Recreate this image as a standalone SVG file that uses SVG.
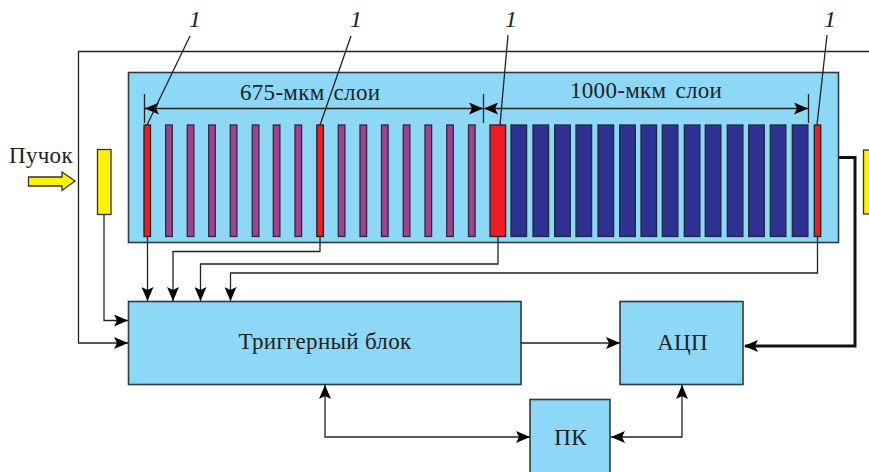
<svg xmlns="http://www.w3.org/2000/svg" width="869" height="472" viewBox="0 0 869 472">
<style>
.b{fill:#8dd7f7;stroke:#2f3a40;stroke-width:1.6}
.r{fill:#ee1c25;stroke:#222;stroke-width:1.3}
.p{fill:#a4418f;stroke:#2a2a3a;stroke-width:1.3}
.d{fill:#2e3192;stroke:#1f2a3a;stroke-width:1.3}
.y{fill:#fff200;stroke:#333;stroke-width:1.3}
.w{fill:none;stroke:#222;stroke-width:1.3}
.t{font-family:"Liberation Serif",serif;font-size:23px;fill:#222;letter-spacing:.3px}
.g{word-spacing:3px}
.i{font-family:"Liberation Serif",serif;font-size:24px;font-style:italic;fill:#222}
.e{marker-end:url(#a)}
.s{marker-start:url(#as)}
</style>
<defs>
<marker id="a" markerUnits="userSpaceOnUse" markerWidth="15" markerHeight="12" refX="14" refY="6" orient="auto"><path d="M0 0L14 6L0 12L3 6Z" fill="#000"/></marker>
<marker id="as" markerUnits="userSpaceOnUse" markerWidth="15" markerHeight="12" refX="0" refY="6" orient="auto"><path d="M14 0L0 6L14 12L11 6Z" fill="#000"/></marker>
</defs>
<rect width="869" height="472" fill="#fff"/>
<g id="panel">
<rect class="b" x="128.5" y="72.5" width="710" height="170"/>
<text class="t g" x="240" y="100">675-мкм слои</text>
<text class="t g" x="570" y="98">1000-мкм слои</text>
</g>
<g id="layers">
<rect class="r" x="144" y="125" width="6.500" height="111.500"/>
<rect class="p" x="165.700" y="125" width="6.600" height="111.500"/>
<rect class="p" x="187.300" y="125" width="6.600" height="111.500"/>
<rect class="p" x="208.700" y="125" width="6.600" height="111.500"/>
<rect class="p" x="230.300" y="125" width="6.600" height="111.500"/>
<rect class="p" x="252.300" y="125" width="6.600" height="111.500"/>
<rect class="p" x="273.300" y="125" width="6.600" height="111.500"/>
<rect class="p" x="295" y="125" width="6.600" height="111.500"/>
<rect class="r" x="316.800" y="125" width="6.600" height="111.500"/>
<rect class="p" x="338.300" y="125" width="6.600" height="111.500"/>
<rect class="p" x="360" y="125" width="6.600" height="111.500"/>
<rect class="p" x="381.500" y="125" width="6.600" height="111.500"/>
<rect class="p" x="403.300" y="125" width="6.600" height="111.500"/>
<rect class="p" x="425" y="125" width="6.600" height="111.500"/>
<rect class="p" x="446.700" y="125" width="6.600" height="111.500"/>
<rect class="p" x="468.500" y="125" width="6.600" height="111.500"/>
<rect class="r" x="490" y="125" width="15.600" height="111.500"/>
<rect class="d" x="511" y="125" width="15.600" height="111.500"/>
<rect class="d" x="533" y="125" width="15.600" height="111.500"/>
<rect class="d" x="554.700" y="125" width="15.600" height="111.500"/>
<rect class="d" x="576" y="125" width="15.600" height="111.500"/>
<rect class="d" x="598" y="125" width="15.600" height="111.500"/>
<rect class="d" x="619.700" y="125" width="15.600" height="111.500"/>
<rect class="d" x="641" y="125" width="15.600" height="111.500"/>
<rect class="d" x="662.300" y="125" width="15.600" height="111.500"/>
<rect class="d" x="684.300" y="125" width="15.600" height="111.500"/>
<rect class="d" x="705.300" y="125" width="15.600" height="111.500"/>
<rect class="d" x="727.300" y="125" width="15.600" height="111.500"/>
<rect class="d" x="748.700" y="125" width="15.600" height="111.500"/>
<rect class="d" x="770.300" y="125" width="15.600" height="111.500"/>
<rect class="d" x="792.300" y="125" width="15.600" height="111.500"/>
<rect class="r" x="814.300" y="125" width="6.400" height="111.500"/>
</g>
<g id="beam">
<text class="t" x="9" y="163">Пучок</text>
<path class="y" d="M28.500 177H62V172L75 181L62 190.500V186H28.500Z"/>
</g>
<g id="counter-left"><rect class="y" x="97.500" y="149.500" width="13.500" height="65"/></g>
<g id="counter-right"><rect class="y" x="863.500" y="150" width="10" height="64"/></g>
<g id="trigger"><rect class="b" x="128.500" y="301.500" width="392.500" height="83"/><text class="t" x="325" y="349" text-anchor="middle">Триггерный блок</text></g>
<g id="adc"><rect class="b" x="620" y="301.500" width="123" height="83"/><text class="t" x="682.500" y="350" text-anchor="middle">АЦП</text></g>
<g id="pc"><rect class="b" x="530" y="399.500" width="80" height="85"/><text class="t" x="570.500" y="445" text-anchor="middle">ПК</text></g>
<g id="connectors">
<path class="w" d="M144.500 94V123M483.500 94V123M808.500 94V123"/>
<path class="w e s" d="M145 108.500H483"/>
<path class="w e s" d="M484 108.500H808"/>
<path class="w" d="M190 36L147 125M351 36L320 125M508 35L500 125M827 35L817 125"/>
<path class="w e" d="M869 51.500H78.500V343H128"/>
<path class="w e" d="M104 214.500V320.500H128"/>
<path class="w e" d="M147.500 236.500V301"/>
<path class="w e" d="M320 236.500V251.500H173V301"/>
<path class="w e" d="M498 236.500V264H200.500V301"/>
<path class="w e" d="M817.500 236.500V273H230.500V301"/>
<path class="w e" d="M521 343H620"/>
<path class="w e s" d="M325 385V437H530"/>
<path class="w e s" d="M611 437H682V385"/>
<path fill="none" stroke="#111" stroke-width="3" d="M839 157.500H855V346H745"/>
<path d="M744 346L758 340L755 346L758 352Z" fill="#000"/>
</g>
<g id="labels">
<text class="i" x="189" y="27">1</text>
<text class="i" x="350" y="27">1</text>
<text class="i" x="505" y="27">1</text>
<text class="i" x="824" y="27">1</text>
</g>
</svg>
